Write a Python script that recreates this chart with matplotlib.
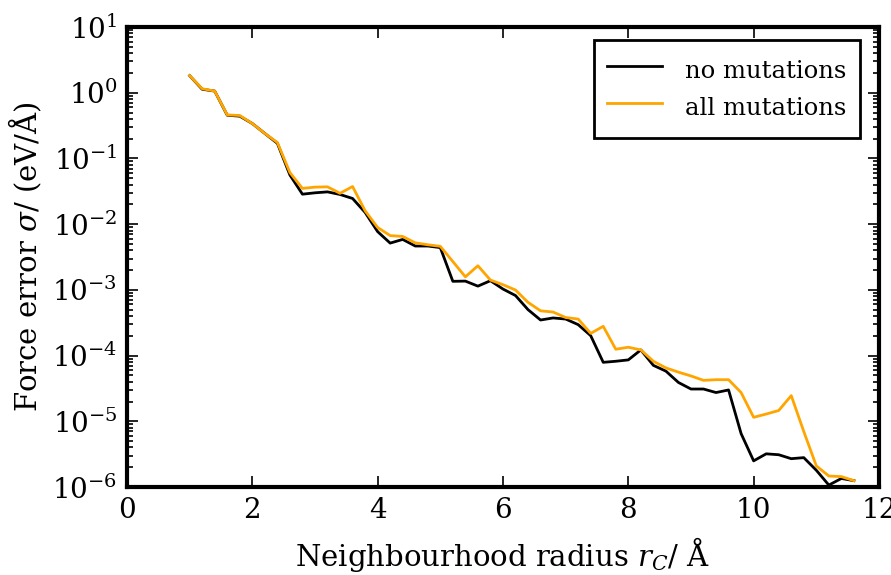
import numpy as np
import matplotlib
matplotlib.use("Agg")
import matplotlib.pyplot as plt

plt.rcParams['font.family'] = ['DejaVu Serif']
plt.rcParams['mathtext.fontset'] = 'dejavuserif'

# neighbourhood radius (Å)
r_c = [1.0, 1.2, 1.4, 1.6, 1.8, 2.0, 2.2, 2.4, 2.6, 2.8,
       3.0, 3.2, 3.4, 3.6, 3.8, 4.0, 4.2, 4.4, 4.6, 4.8,
       5.0, 5.2, 5.4, 5.6, 5.8, 6.0, 6.2, 6.4, 6.6, 6.8,
       7.0, 7.2, 7.4, 7.6, 7.8, 8.0, 8.2, 8.4, 8.6, 8.8,
       9.0, 9.2, 9.4, 9.6, 9.8, 10.0, 10.2, 10.4, 10.6, 10.8,
       11.0, 11.2, 11.4, 11.6]

no_mut = [1.82, 1.13, 1.06, 0.455, 0.44, 0.34, 0.24, 0.17, 0.056, 0.0286,
          0.030, 0.031, 0.0283, 0.0246, 0.0151, 0.0077, 0.00515, 0.00586, 0.00465, 0.00465,
          0.0044, 0.00135, 0.00136, 0.00114, 0.00138, 0.00103, 0.00082, 0.0005, 0.000348, 0.000374,
          0.00036, 0.000296, 0.000201, 7.9e-5, 8.2e-5, 8.6e-5, 0.000122, 7.1e-5, 5.8e-5, 3.9e-5,
          3.1e-5, 3.1e-5, 2.74e-5, 3.0e-5, 6.5e-6, 2.5e-6, 3.2e-6, 3.1e-6, 2.7e-6, 2.8e-6,
          1.8e-6, 1.07e-6, 1.35e-6, 1.25e-6]

all_mut = [1.82, 1.15, 1.06, 0.46, 0.45, 0.34, 0.24, 0.175, 0.061, 0.035,
           0.0366, 0.037, 0.0295, 0.0374, 0.016, 0.0089, 0.0067, 0.0065, 0.0052, 0.00486,
           0.0046, 0.0027, 0.00158, 0.00233, 0.00141, 0.0012, 0.000995, 0.000646, 0.00048, 0.00046,
           0.00038, 0.00036, 0.000218, 0.000279, 0.000125, 0.000134, 0.000122, 8.2e-5, 6.5e-5, 5.6e-5,
           4.9e-5, 4.2e-5, 4.3e-5, 4.3e-5, 2.74e-5, 1.15e-5, 1.29e-5, 1.46e-5, 2.46e-5, 7e-6,
           2.1e-6, 1.47e-6, 1.44e-6, 1.25e-6]

fig = plt.figure(figsize=(8.91, 5.75), dpi=100)
ax = fig.add_axes([0.1425, 0.153, 0.844, 0.800])

ax.plot(r_c, no_mut, color='black', lw=2, label='no mutations')
ax.plot(r_c, all_mut, color='orange', lw=2, label='all mutations')

ax.set_yscale('log')
ax.set_xlim(0, 12)
ax.set_ylim(1e-6, 1e1)
ax.set_xticks([0, 2, 4, 6, 8, 10, 12])

ax.tick_params(which='both', direction='in', top=True, right=True, labelsize=20, width=1.2)
ax.tick_params(which='major', length=8, pad=7)
ax.tick_params(which='minor', length=4)
for s in ax.spines.values():
    s.set_linewidth(3)

ax.set_xlabel(r'Neighbourhood radius $r_C$/ Å', fontsize=21, labelpad=8)
ax.set_ylabel(r'Force error $\sigma$/ (eV/Å)', fontsize=21, labelpad=6)

leg = ax.legend(loc='upper right', bbox_to_anchor=(0.9747, 0.9717), borderaxespad=0,
                fontsize=17.5, fancybox=False, framealpha=1,
                handlelength=2.25, handletextpad=0.95, borderpad=0.55,
                handleheight=1.8, labelspacing=0.1)
leg.get_frame().set_edgecolor('black')
leg.get_frame().set_linewidth(2)

fig.savefig('out.png', dpi=100)
